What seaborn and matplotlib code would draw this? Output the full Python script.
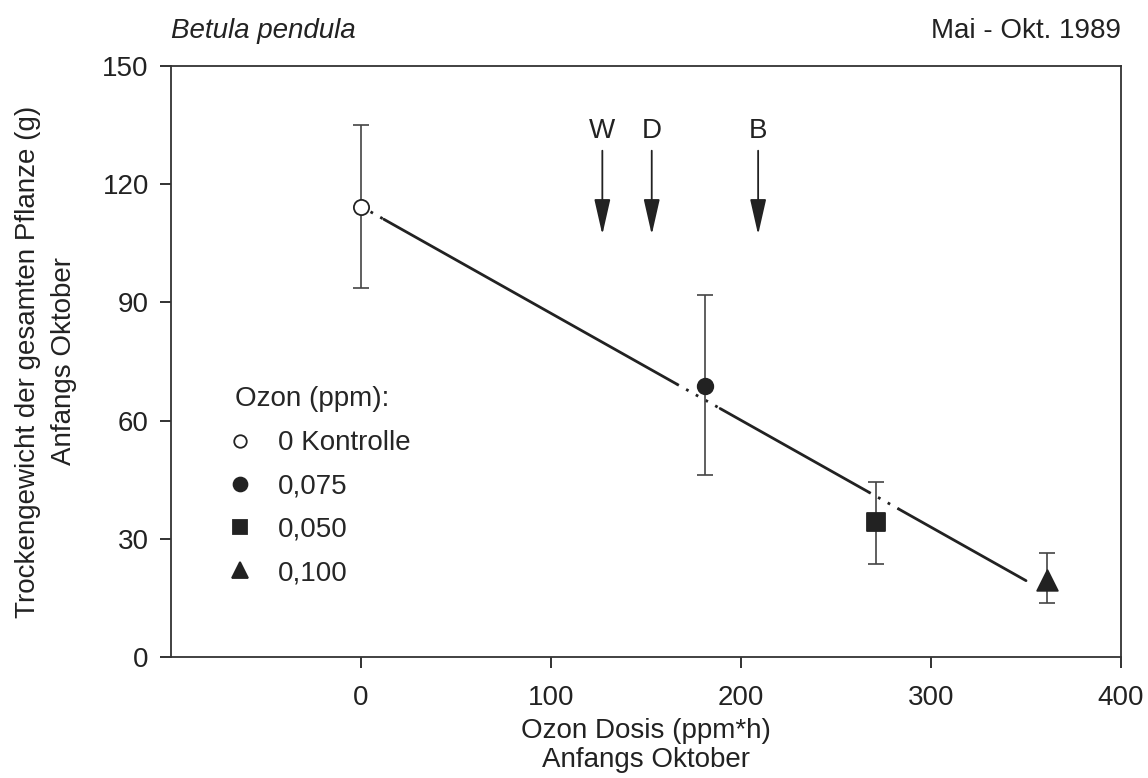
import numpy as np
import pandas as pd
import matplotlib
matplotlib.use("Agg")
import matplotlib.pyplot as plt
from matplotlib.lines import Line2D
import seaborn as sns

# data
groups = ['0 Kontrolle', '0,075', '0,050', '0,100']
dose = [0, 181, 271, 361]
weight = [114.2, 68.8, 34.3, 19.5]
err_low = [93.7, 46.2, 23.6, 13.8]
err_high = [135.0, 91.9, 44.5, 26.5]
markers = ['o', 'o', 's', '^']
faces = ['white', '#222222', '#222222', '#222222']
sizes = [120, 125, 160, 220]

arrow_labels = ['W', 'D', 'B']
arrow_x = [127, 153, 209]

sns.set_style("ticks")
plt.rcParams['font.family'] = ['Liberation Sans', 'DejaVu Sans']
plt.rcParams['font.size'] = 20

df = pd.DataFrame({'dose': dose, 'weight': weight, 'group': groups,
                   'lo': err_low, 'hi': err_high})

fig = plt.figure(figsize=(11.48, 7.78), dpi=100)
ax = fig.add_axes([0.149, 0.1555, 0.8275, 0.7597])

ink = '#222222'

# error bars
for i, r in df.iterrows():
    ax.errorbar(r['dose'], r['weight'],
                yerr=[[r['weight'] - r['lo']], [r['hi'] - r['weight']]],
                fmt='none', ecolor='#444444', elinewidth=1.2, capsize=6, capthick=1.2, zorder=2)

# regression line, broken near the points
b, a = np.polyfit(df['dose'], df['weight'], 1)
solid = [(12, 166), (189, 267), (283, 350)]
dotted = [(5, 12), (166, 189), (267, 283)]
for x0, x1 in solid:
    xs = np.array([x0, x1])
    ax.plot(xs, a + b * xs, color=ink, lw=2, zorder=1)
for x0, x1 in dotted:
    xs = np.array([x0, x1])
    ax.plot(xs, a + b * xs, color=ink, lw=2, ls=(0, (1, 3)), zorder=1)

for i, r in df.iterrows():
    sns.scatterplot(x=[r['dose']], y=[r['weight']], marker=markers[i], s=sizes[i],
                    color=faces[i], edgecolor=ink, linewidth=1.3, ax=ax, zorder=3, legend=False)

# arrows
for lab, xa in zip(arrow_labels, arrow_x):
    ax.annotate('', xy=(xa, 107.2), xytext=(xa, 128.5),
                arrowprops=dict(arrowstyle='-|>,head_width=0.25,head_length=1.1',
                                mutation_scale=20, color=ink, lw=1.3,
                                shrinkA=0, shrinkB=0))
    ax.text(xa, 133.5, lab, ha='center', va='center', fontsize=20, color=ink)

ax.set_xlim(-100, 400)
ax.set_ylim(0, 150)
ax.set_xticks([0, 100, 200, 300, 400])
ax.set_yticks([0, 30, 60, 90, 120, 150])
ax.tick_params(direction='out', length=8, width=1.3, colors=ink, labelsize=20, pad=8)
ax.tick_params(axis='x', pad=12)
for s in ax.spines.values():
    s.set_color('#333333')
    s.set_linewidth(1.3)

ax.set_xlabel('Ozon Dosis (ppm*h)\nAnfangs Oktober', fontsize=20, color=ink,
              labelpad=5, linespacing=1.18)
ax.set_ylabel('Trockengewicht der gesamten Pflanze (g)\nAnfangs Oktober', fontsize=20,
              color=ink, labelpad=18, linespacing=1.5)

handles = [Line2D([], [], ls='', marker=m, markerfacecolor=f, markeredgecolor=ink,
                  markersize=ms, markeredgewidth=1.3)
           for m, f, ms in zip(markers, faces, [9, 10, 10, 11])]
leg = ax.legend(handles, groups, title='Ozon (ppm):', loc='upper left',
                bbox_to_anchor=(0.067, 0.458), frameon=False, fontsize=20,
                title_fontsize=20, handletextpad=1.15, labelspacing=0.62,
                handlelength=0.4, borderaxespad=0, borderpad=0)
leg._legend_box.align = 'left'
leg._legend_box.sep = 13

fig.text(0.149, 0.96, 'Betula pendula', style='italic', fontsize=20, color=ink, va='center')
fig.text(0.9765, 0.96, 'Mai - Okt. 1989', fontsize=20, color=ink, va='center', ha='right')

fig.savefig('out.png', dpi=100)
